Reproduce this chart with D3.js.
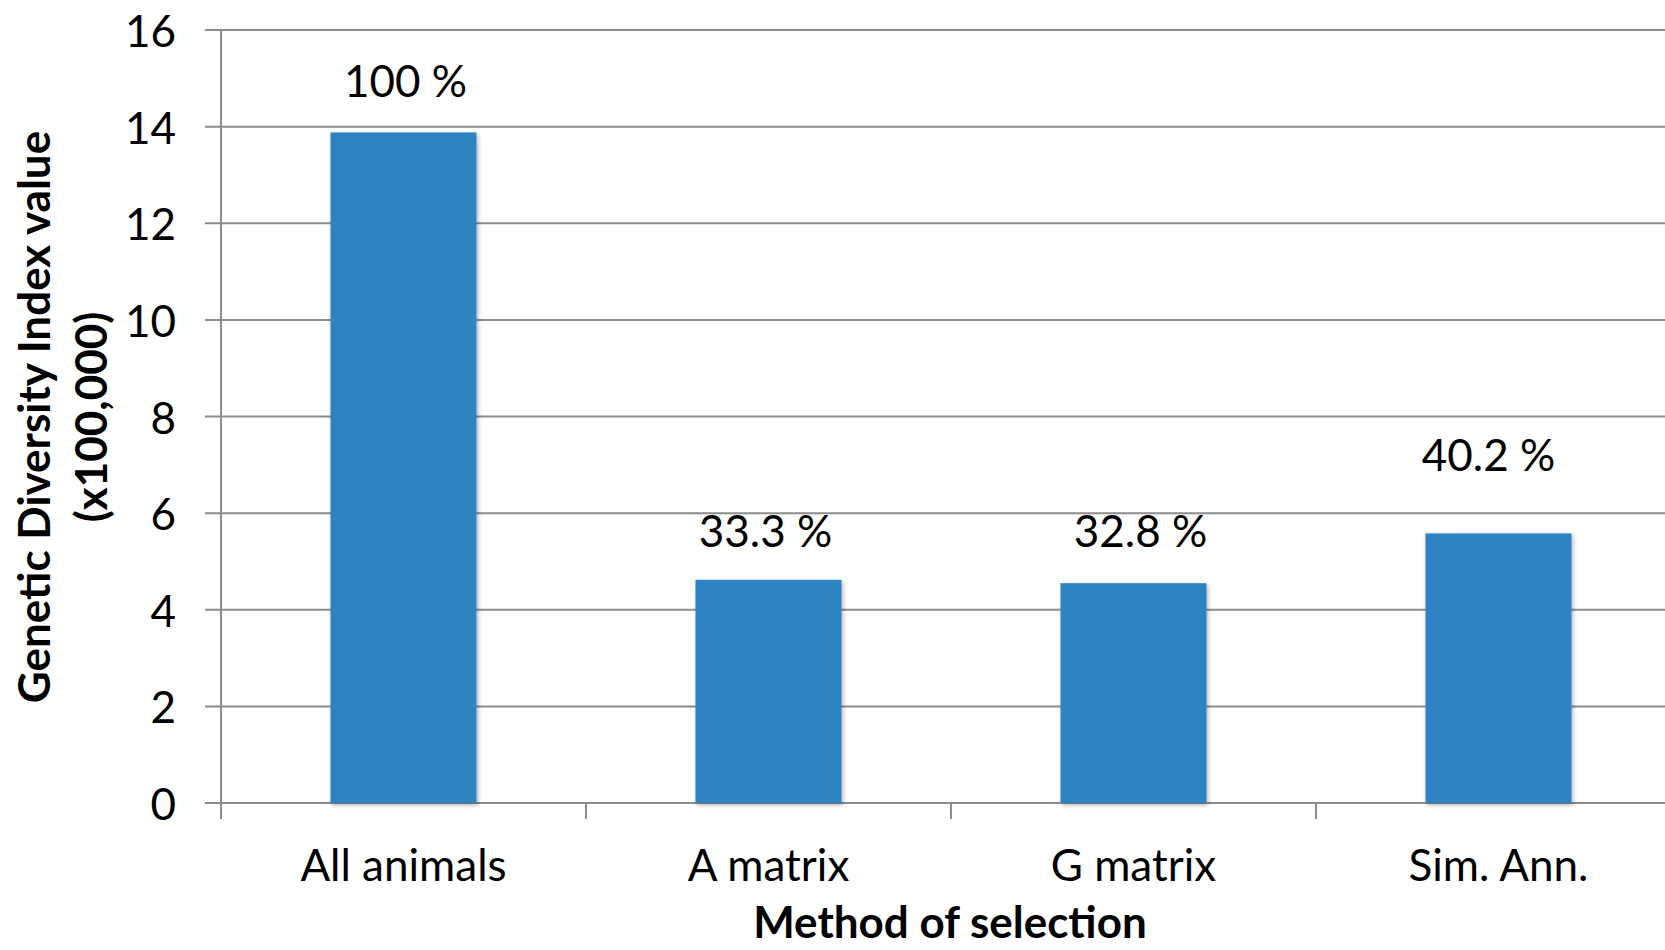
<!DOCTYPE html>
<html>
<head>
<meta charset="utf-8">
<script src="https://cdn.jsdelivr.net/npm/d3@7"></script>
<style>
  html, body { margin: 0; padding: 0; background: #fff; }
  svg { display: block; }
  text { font-family: Lato, "Open Sans", sans-serif; fill: #000; }
</style>
</head>
<body>
<script>
// Genetic diversity index per selection method
const categories = ["All animals", "A matrix", "G matrix", "Sim. Ann."];
const values = [13.88, 4.62, 4.55, 5.58];   // index value (x100,000)
const yTicks = [0, 2, 4, 6, 8, 10, 12, 14, 16];

const W = 1665, H = 950;
const margin = { left: 221, top: 30 };
const plotBottom = 803;
const step = 365;

// label nudges in pixels: [dx, lift above bar top]
const labelNudge = [[2, 35], [-3, 33], [7, 36], [-10, 62]];

const svg = d3.select("body").append("svg")
  .attr("width", W).attr("height", H);

const defs = svg.append("defs");
const f = defs.append("filter").attr("id", "barShadow")
  .attr("x", "-10%").attr("y", "-10%").attr("width", "130%").attr("height", "130%");
f.append("feDropShadow").attr("dx", 1.5).attr("dy", 2).attr("stdDeviation", 2.2)
  .attr("flood-color", "#000").attr("flood-opacity", 0.3);

const x = d3.scaleBand()
  .domain(categories)
  .range([margin.left, margin.left + step * categories.length])
  .paddingInner(0.6).paddingOuter(0.3);

const y = d3.scaleLinear().domain([0, 16]).range([plotBottom, margin.top]);

const gridColor = "#8c8c8c";

// horizontal gridlines with short ticks left of the axis
svg.append("g").selectAll("line").data(yTicks).join("line")
  .attr("x1", margin.left - 16).attr("x2", W)
  .attr("y1", d => y(d)).attr("y2", d => y(d))
  .attr("stroke", gridColor).attr("stroke-width", 2);

// vertical axis line
svg.append("line")
  .attr("x1", margin.left).attr("x2", margin.left)
  .attr("y1", y(16)).attr("y2", plotBottom + 16)
  .attr("stroke", gridColor).attr("stroke-width", 2);

// y tick labels
svg.append("g").selectAll("text").data(yTicks).join("text")
  .attr("x", 176).attr("y", d => y(d))
  .attr("text-anchor", "end").attr("dominant-baseline", "central")
  .style("font-size", "44px")
  .text(d => d);

// x category ticks at band boundaries
const xBoundaries = categories.map((c, i) => margin.left + i * x.step());
svg.append("g").selectAll("line").data(xBoundaries).join("line")
  .attr("x1", d => d).attr("x2", d => d)
  .attr("y1", plotBottom).attr("y2", plotBottom + 16)
  .attr("stroke", gridColor).attr("stroke-width", 2);

// bars
svg.append("g").selectAll("rect").data(values).join("rect")
  .attr("x", (d, i) => x(categories[i]))
  .attr("width", x.bandwidth())
  .attr("y", d => y(d))
  .attr("height", d => y(0) - y(d))
  .attr("fill", "#2e83c2")
  .attr("filter", "url(#barShadow)");

// percentage labels relative to the first method
const pct = v => {
  const p = v / values[0] * 100;
  return (Math.abs(p - 100) < 1e-9 ? "100" : p.toFixed(1)) + " %";
};
svg.append("g").selectAll("text").data(values).join("text")
  .attr("x", (d, i) => x(categories[i]) + x.bandwidth() / 2 + labelNudge[i][0])
  .attr("y", (d, i) => y(d) - labelNudge[i][1])
  .attr("text-anchor", "middle")
  .style("font-size", "44px")
  .text(d => pct(d));

// category labels
svg.append("g").selectAll("text").data(categories).join("text")
  .attr("x", d => x(d) + x.bandwidth() / 2)
  .attr("y", 881)
  .attr("text-anchor", "middle")
  .style("font-size", "44px")
  .text(d => d);

// axis titles
svg.append("text")
  .attr("x", 950).attr("y", 938)
  .attr("text-anchor", "middle")
  .style("font-size", "44px").style("font-weight", "bold")
  .text("Method of selection");

const yTitle = svg.append("text")
  .attr("transform", "translate(0,417) rotate(-90)")
  .attr("text-anchor", "middle")
  .style("font-size", "44px").style("font-weight", "bold");
yTitle.append("tspan").attr("x", 0).attr("y", 50).text("Genetic Diversity Index value");
yTitle.append("tspan").attr("x", 0).attr("y", 107).text("(x100,000)");
</script>
</body>
</html>
